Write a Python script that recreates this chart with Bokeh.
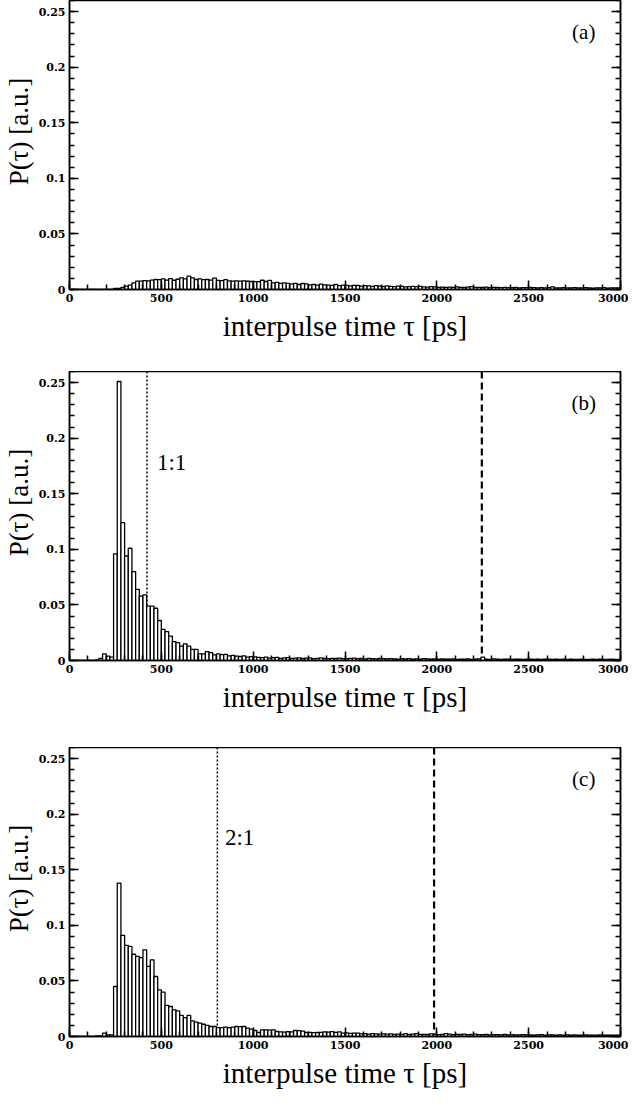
from bokeh.plotting import figure
from bokeh.layouts import column
from bokeh.models import Range1d, FixedTicker, LinearAxis, Span, CustomJSTickFormatter
from bokeh.core.properties import value
from bokeh.embed import file_html
from bokeh.resources import INLINE

# ---------------- data ----------------
bin_width = 20  # ps
bin_left = list(range(0, 3000, bin_width))

# panel (a)
p_a = [0, 0, 0, 0, 0, 0, 0, 0, 0, 0, 0, 0,
       0.001, 0.001, 0.002, 0.003, 0.004, 0.006,
       0.0075, 0.0075, 0.008, 0.0078, 0.0085, 0.009, 0.0088, 0.0095, 0.0085, 0.0098, 0.0083, 0.0092,
       0.0105, 0.0095, 0.012, 0.0105, 0.009, 0.0095, 0.0088, 0.009, 0.0085, 0.0103, 0.0082, 0.008,
       0.0088, 0.0078, 0.0076, 0.0077, 0.0075, 0.0077, 0.0074, 0.0072, 0.0071, 0.007, 0.0083, 0.0072,
       0.0082, 0.006, 0.0065, 0.0056, 0.006, 0.0055, 0.005, 0.0055, 0.0045, 0.0054, 0.005, 0.0042,
       0.0045, 0.004, 0.0048, 0.0042, 0.004, 0.0038, 0.0045, 0.0035, 0.004, 0.0038, 0.0033, 0.0038,
       0.0036, 0.003, 0.0034, 0.0032, 0.0028, 0.0035, 0.003, 0.0027, 0.0032, 0.0028, 0.0025, 0.003,
       0.0028, 0.0024, 0.0026, 0.0029, 0.0025, 0.0028, 0.0023, 0.0022, 0.0026, 0.0024, 0.002, 0.0022,
       0.002, 0.0021, 0.0019, 0.0023, 0.002, 0.0018, 0.0022, 0.0026, 0.0019, 0.002, 0.0018, 0.0021,
       0.0017, 0.0019, 0.0018, 0.0016, 0.0019, 0.0017, 0.0016, 0.0018, 0.0015, 0.0017, 0.0016, 0.0018,
       0.0016, 0.0015, 0.0017, 0.0015, 0.0016, 0.0023, 0.0015, 0.0014, 0.0016, 0.0015, 0.0014, 0.0016,
       0.0015, 0.0014, 0.0016, 0.0014, 0.0013, 0.0015, 0.0014, 0.0016, 0.0013, 0.0014, 0.0015, 0.0014]

# panel (b)
p_b = [0, 0, 0, 0, 0, 0, 0, 0.0005, 0.002, 0.006, 0.004, 0.003,
       0.096, 0.251, 0.124, 0.094, 0.101, 0.080, 0.064, 0.058, 0.059, 0.049, 0.049, 0.047, 0.036, 0.028,
       0.026, 0.022, 0.017, 0.016, 0.013, 0.015, 0.013, 0.010, 0.010, 0.006, 0.006, 0.008, 0.007, 0.005,
       0.006, 0.0052, 0.0055, 0.0042, 0.0046, 0.004, 0.0036, 0.0042, 0.003, 0.0035, 0.0032, 0.0028,
       0.0025, 0.003, 0.0022, 0.0026, 0.0028, 0.002, 0.0023, 0.0025, 0.0019, 0.0022, 0.0024, 0.0018,
       0.0021, 0.0023, 0.0017, 0.002, 0.0024, 0.0018, 0.0016, 0.002, 0.0018, 0.0022, 0.0017, 0.0016,
       0.0019, 0.0021, 0.0016, 0.0018, 0.0015, 0.002, 0.0017, 0.0015, 0.0018, 0.0016, 0.0014, 0.0017,
       0.0015, 0.0013, 0.0016, 0.0014, 0.0017, 0.0013, 0.0015, 0.0012, 0.0016, 0.0014, 0.0013, 0.0015,
       0.0012, 0.0014, 0.0013, 0.0012, 0.0015, 0.0011, 0.0013, 0.0012, 0.0014, 0.0011, 0.0013, 0.0015,
       0.003, 0.0012, 0.0011, 0.0014, 0.0012, 0.0011, 0.0013, 0.0012, 0.0011, 0.0013, 0.0012, 0.0011,
       0.0012, 0.0013, 0.0011, 0.0012, 0.001, 0.0012, 0.0013, 0.0011, 0.0012, 0.001, 0.0012, 0.0011,
       0.0012, 0.001, 0.0011, 0.0013, 0.0011, 0.001, 0.0012, 0.0011, 0.0013, 0.001, 0.0011, 0.0012, 0.001, 0.0011]

# panel (c)
p_c = [0, 0, 0, 0, 0, 0, 0, 0.0005, 0.0005, 0.003, 0.0015, 0.0015,
       0.045, 0.138, 0.091, 0.082, 0.081, 0.074, 0.072, 0.071, 0.078, 0.063, 0.069, 0.054, 0.042, 0.040,
       0.028, 0.027, 0.024, 0.023, 0.019, 0.017, 0.019, 0.014, 0.013, 0.012, 0.011, 0.010, 0.009, 0.009, 0.008,
       0.008, 0.0085, 0.008, 0.0085, 0.009, 0.0088, 0.009, 0.0075, 0.0066, 0.0054, 0.0036, 0.006,
       0.006, 0.0058, 0.006, 0.0045, 0.0042, 0.004, 0.0044, 0.0042, 0.0054, 0.0052, 0.0048, 0.0036,
       0.0038, 0.0034, 0.0036, 0.0038, 0.0042, 0.004, 0.0044, 0.0038, 0.0042, 0.003, 0.0032, 0.0028,
       0.003, 0.0031, 0.0024, 0.0026, 0.0022, 0.0025, 0.0024, 0.0022, 0.0024, 0.0022, 0.0023, 0.002,
       0.0022, 0.002, 0.0025, 0.0018, 0.0021, 0.0026, 0.0019, 0.002, 0.0018, 0.0024, 0.0019, 0.0017,
       0.0019, 0.0025, 0.0022, 0.0017, 0.0019, 0.0018, 0.0021, 0.0016, 0.0018, 0.0022, 0.0017, 0.0016,
       0.0018, 0.0015, 0.0017, 0.0016, 0.0014, 0.0018, 0.0015, 0.0016, 0.0014, 0.0015, 0.0017, 0.0014,
       0.0015, 0.0013, 0.0014, 0.0016, 0.0013, 0.0014, 0.0015, 0.0013, 0.0014, 0.0012, 0.0014, 0.0013,
       0.0014, 0.0012, 0.0013, 0.0014, 0.0012, 0.0013, 0.0012, 0.0014, 0.0012, 0.0013, 0.0012, 0.0013, 0.0012]

x_ticks = [0, 500, 1000, 1500, 2000, 2500, 3000]
x_minor = list(range(0, 3001, 100))
y_ticks = [0, 0.05, 0.1, 0.15, 0.2, 0.25]
y_minor = [i / 100 for i in range(0, 27)]

panel_tags = ["(a)", "(b)", "(c)"]
ratio_line_x = [None, 422, 805]
ratio_text = [None, "1:1", "2:1"]
ratio_text_x = [None, 476, 846]
ratio_text_y = [None, 0.178, 0.179]
resonance_x = [None, 2245, 1985]

X_LABEL = "interpulse time \u03c4 [ps]"
Y_LABEL = "\u00a0" * 4 + "P(\u03c4) [a.u.]"

SERIF = "Liberation Serif"
TICK_FONT = "DejaVu Serif"


def make_panel(vals, i, height, bottom):
    p = figure(width=628, height=height, x_range=Range1d(0, 3000), y_range=Range1d(0, 0.26),
               output_backend="svg", toolbar_location=None, title=None,
               min_border_left=61, min_border_right=8, min_border_top=0, min_border_bottom=bottom)
    p.xgrid.visible = False
    p.ygrid.visible = False
    p.outline_line_color = "black"
    p.outline_line_width = 1.5
    p.background_fill_color = "white"

    if ratio_line_x[i] is not None:
        p.add_layout(Span(location=ratio_line_x[i], dimension="height", line_color="black",
                          line_width=1.5, line_dash="2 2", level="underlay"))
        p.add_layout(Span(location=resonance_x[i], dimension="height", line_color="black",
                          line_width=2.2, line_dash="7 4", level="underlay"))
        p.text(x=[ratio_text_x[i]], y=[ratio_text_y[i]], text=[ratio_text[i]],
               text_font=value(SERIF), text_font_size="23px", text_color="black",
               text_align="left", text_baseline="alphabetic")

    p.quad(left=bin_left, right=[l + bin_width for l in bin_left], bottom=0, top=vals,
           fill_color="white", line_color="black", line_width=1.3)

    p.text(x=[2800], y=[0.232], text=[panel_tags[i]], text_font=value(SERIF),
           text_font_size="21px", text_color="black", text_align="center", text_baseline="middle")

    fmt = CustomJSTickFormatter(code="return String(Math.round(tick*100)/100);")
    for ax in p.xaxis:
        ax.ticker = FixedTicker(ticks=x_ticks, minor_ticks=x_minor)
        ax.axis_label = X_LABEL
    for ax in p.yaxis:
        ax.ticker = FixedTicker(ticks=y_ticks, minor_ticks=y_minor)
        ax.formatter = fmt
        ax.axis_label = Y_LABEL

    ra = LinearAxis(ticker=FixedTicker(ticks=y_ticks, minor_ticks=y_minor),
                    formatter=CustomJSTickFormatter(code="return '';"),
                    major_label_standoff=0)
    p.add_layout(ra, "right")

    for ax in p.xaxis + p.yaxis + [ra]:
        ax.axis_line_color = "black"
        ax.axis_line_width = 1.5
        ax.major_tick_in = 9
        ax.major_tick_out = 0
        ax.minor_tick_in = 5
        ax.minor_tick_out = 0
        ax.major_tick_line_width = 1.5
        ax.minor_tick_line_width = 1.5
        ax.major_tick_line_color = "black"
        ax.minor_tick_line_color = "black"
    for ax in p.xaxis + p.yaxis:
        ax.major_label_text_font = TICK_FONT
        ax.major_label_text_font_size = "11px"
        ax.major_label_text_font_style = "bold"
        ax.major_label_text_color = "black"
        ax.major_label_standoff = 4
        ax.axis_label_text_font = SERIF
        ax.axis_label_text_font_style = "normal"
        ax.axis_label_text_color = "black"
    for ax in p.xaxis:
        ax.axis_label_text_font_size = "29px"
        ax.axis_label_standoff = 5
    for ax in p.yaxis:
        ax.axis_label_text_font_size = "27px"
        ax.axis_label_standoff = 2
    return p


pa = make_panel(p_a, 0, 371, 82)
pb = make_panel(p_b, 1, 376, 87)
pc = make_panel(p_c, 2, 345, 56)

layout = column(pa, pb, pc, spacing=0)
open("out.html", "w").write(file_html(layout, INLINE))
